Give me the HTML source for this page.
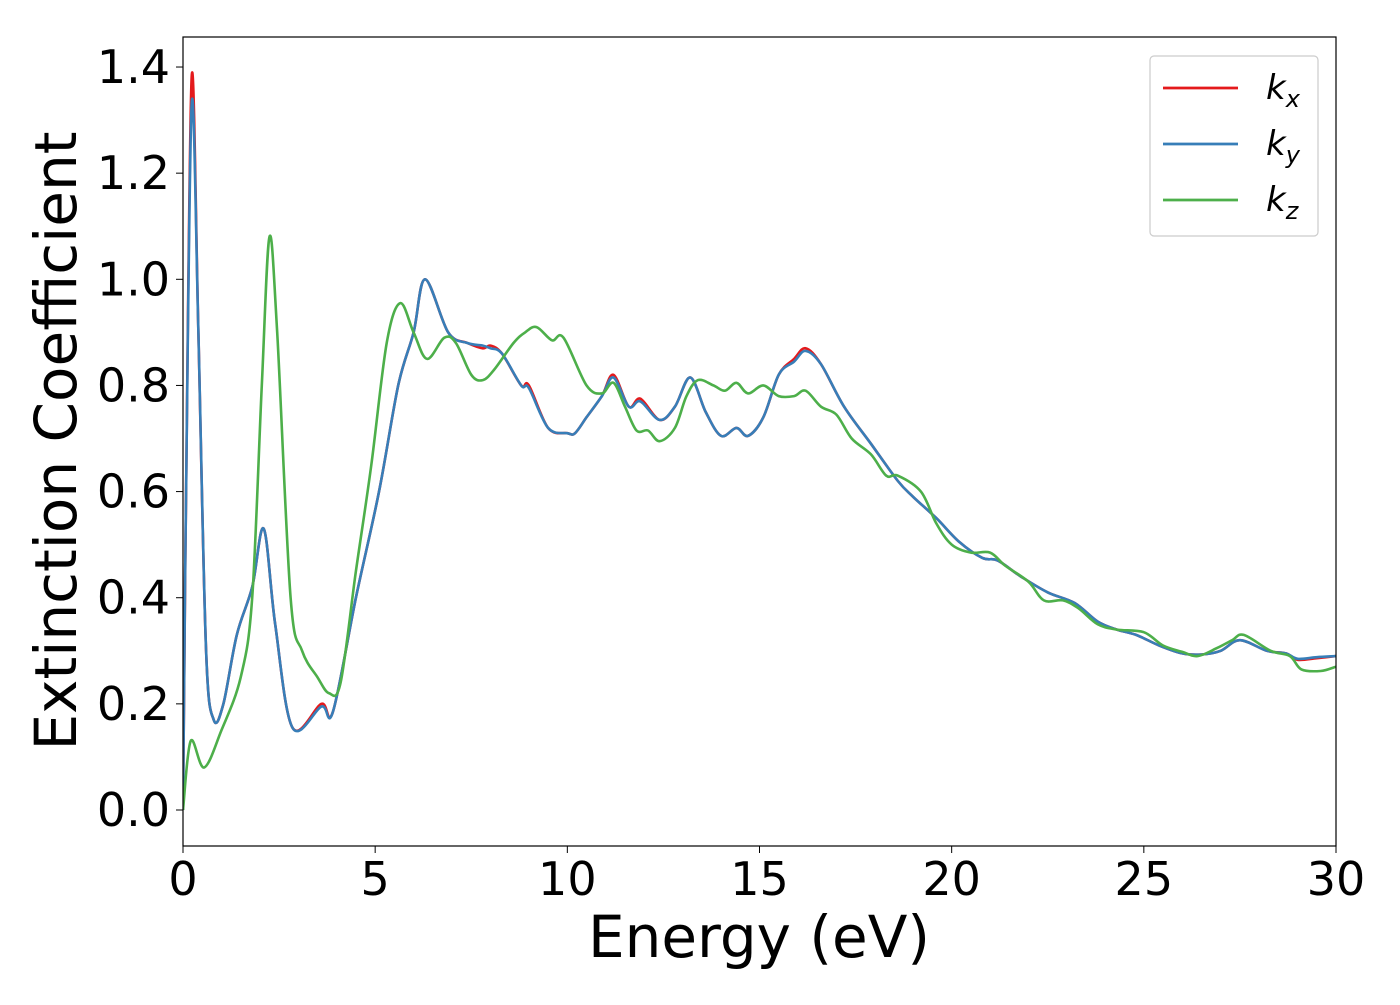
<!DOCTYPE html>
<html><head><meta charset="utf-8"><style>
body{margin:0;background:#fff;}
svg text{font-family:"DejaVu Sans","Liberation Sans",sans-serif;}
</style></head><body>
<svg id="chart" width="1400" height="1000" xmlns="http://www.w3.org/2000/svg">
<rect width="1400" height="1000" fill="#fff"/>
<g id="marks"></g>
<rect x="183" y="37" width="1153" height="809" fill="none" stroke="#000" stroke-width="1.2"/>
<g id="xticks"></g><g id="yticks"></g>
<text x="759" y="957" font-size="58" text-anchor="middle">Energy (eV)</text>
<text transform="translate(76,441) rotate(-90)" font-size="58" text-anchor="middle">Extinction Coefficient</text>
<g>
<rect x="1150" y="56" width="168" height="180" rx="4" fill="#fff" stroke="#ccc" stroke-width="1.2"/>
<line x1="1163" y1="88" x2="1238" y2="88" stroke="#e41a1c" stroke-width="2.8"/>
<line x1="1163" y1="144" x2="1238" y2="144" stroke="#377eb8" stroke-width="2.8"/>
<line x1="1163" y1="200" x2="1238" y2="200" stroke="#4daf4a" stroke-width="2.8"/>
<text x="1266" y="99" font-size="34" font-style="italic">k<tspan font-size="24" dy="8">x</tspan></text>
<text x="1266" y="155" font-size="34" font-style="italic">k<tspan font-size="24" dy="8">y</tspan></text>
<text x="1266" y="211" font-size="34" font-style="italic">k<tspan font-size="24" dy="8">z</tspan></text>
</g>
</svg>
<script>
const xTicks=[0,5,10,15,20,25,30];
const yTicks=[0.0,0.2,0.4,0.6,0.8,1.0,1.2,1.4];
const kxE=[0,0.08,0.23,0.4,0.6,0.8,1.05,1.4,1.8,2.1,2.4,2.85,3.6,3.9,4.5,5.1,5.6,6.0,6.3,6.9,7.4,7.8,8.0,8.3,8.8,9.0,9.5,10.0,10.2,10.5,10.9,11.2,11.6,11.9,12.4,12.8,13.2,13.6,14.0,14.4,14.7,15.1,15.5,15.9,16.2,16.6,17.2,17.9,18.6,19.0,19.6,20.2,20.8,21.2,21.8,22.5,23.2,23.8,24.3,24.8,25.4,26.0,26.5,27.0,27.5,28.2,28.7,29.0,29.5,30];
const kxV=[0,0.6,1.385,0.9,0.3,0.17,0.2,0.33,0.42,0.53,0.35,0.155,0.2,0.185,0.4,0.6,0.8,0.9,1.0,0.9,0.88,0.87,0.875,0.86,0.8,0.8,0.72,0.71,0.71,0.74,0.78,0.82,0.76,0.775,0.735,0.76,0.815,0.75,0.705,0.72,0.705,0.74,0.82,0.85,0.87,0.84,0.76,0.69,0.62,0.59,0.55,0.505,0.475,0.47,0.44,0.41,0.39,0.355,0.34,0.33,0.31,0.295,0.293,0.3,0.32,0.3,0.295,0.283,0.286,0.29];
const kyV=[0,0.6,1.335,0.9,0.3,0.17,0.2,0.33,0.42,0.53,0.35,0.155,0.195,0.185,0.4,0.6,0.8,0.9,1.0,0.9,0.88,0.875,0.87,0.86,0.8,0.795,0.72,0.71,0.71,0.74,0.78,0.815,0.76,0.77,0.735,0.76,0.815,0.75,0.705,0.72,0.705,0.74,0.82,0.845,0.865,0.84,0.76,0.69,0.62,0.59,0.55,0.505,0.475,0.47,0.44,0.41,0.39,0.355,0.34,0.33,0.31,0.295,0.293,0.3,0.32,0.3,0.295,0.285,0.288,0.29];
const kzE=[0,0.2,0.55,1.0,1.5,1.8,2.05,2.25,2.45,2.8,3.1,3.5,3.8,4.1,4.5,4.9,5.3,5.65,6.0,6.35,6.8,7.1,7.5,7.8,8.1,8.6,8.9,9.2,9.6,9.9,10.5,10.9,11.2,11.5,11.8,12.1,12.4,12.8,13.1,13.4,13.8,14.1,14.4,14.7,15.1,15.5,15.9,16.2,16.6,17.0,17.4,17.9,18.3,18.6,19.2,19.6,20.0,20.5,21.0,21.4,22.0,22.4,22.9,23.3,23.8,24.3,25.0,25.5,26.0,26.4,26.9,27.3,27.6,28.3,28.8,29.1,29.6,30];
const kzV=[0,0.13,0.08,0.15,0.25,0.4,0.8,1.08,0.9,0.4,0.3,0.25,0.22,0.24,0.45,0.65,0.88,0.955,0.9,0.85,0.89,0.88,0.82,0.81,0.83,0.88,0.9,0.91,0.885,0.89,0.8,0.785,0.805,0.76,0.715,0.715,0.695,0.72,0.78,0.81,0.8,0.79,0.805,0.785,0.8,0.78,0.78,0.79,0.76,0.745,0.7,0.67,0.63,0.63,0.6,0.54,0.5,0.485,0.485,0.46,0.43,0.395,0.395,0.38,0.35,0.34,0.335,0.31,0.298,0.29,0.305,0.32,0.33,0.3,0.29,0.265,0.262,0.27];
const X=v=>183+(v-0)*(1336-183)/30;
const Y=v=>810-v*530.7;
const NS="http://www.w3.org/2000/svg";
function path(xs,ys){
  const p=xs.map((x,i)=>[X(x),Y(ys[i])]);
  let d="M"+p[0][0].toFixed(1)+","+p[0][1].toFixed(1);
  for(let i=0;i<p.length-1;i++){
    const p0=p[Math.max(i-1,0)],p1=p[i],p2=p[i+1],p3=p[Math.min(i+2,p.length-1)];
    const c1=[p1[0]+(p2[0]-p0[0])/6,p1[1]+(p2[1]-p0[1])/6];
    const c2=[p2[0]-(p3[0]-p1[0])/6,p2[1]-(p3[1]-p1[1])/6];
    d+=`C${c1[0].toFixed(1)},${c1[1].toFixed(1)} ${c2[0].toFixed(1)},${c2[1].toFixed(1)} ${p2[0].toFixed(1)},${p2[1].toFixed(1)}`;
  }
  return d;
}
const marks=document.getElementById("marks");
const clip=document.createElementNS(NS,"clipPath");clip.id="pc";
const cr=document.createElementNS(NS,"rect");cr.setAttribute("x",183);cr.setAttribute("y",37);cr.setAttribute("width",1153);cr.setAttribute("height",809);
clip.appendChild(cr);marks.appendChild(clip);
marks.setAttribute("clip-path","url(#pc)");
[[kxE,kxV,"#e41a1c","series-kx"],[kxE,kyV,"#377eb8","series-ky"],[kzE,kzV,"#4daf4a","series-kz"]].forEach(s=>{
  const el=document.createElementNS(NS,"path");
  el.setAttribute("d",path(s[0],s[1]));
  el.setAttribute("fill","none");el.setAttribute("stroke",s[2]);el.setAttribute("stroke-width","2.6");
  
  
  marks.appendChild(el);
});
const xg=document.getElementById("xticks");
xTicks.forEach(t=>{
  const l=document.createElementNS(NS,"line");
  l.setAttribute("x1",X(t));l.setAttribute("x2",X(t));l.setAttribute("y1",846);l.setAttribute("y2",853);l.setAttribute("stroke","#000");
  
  
  xg.appendChild(l);
  const tx=document.createElementNS(NS,"text");
  tx.setAttribute("x",X(t));tx.setAttribute("y",895);tx.setAttribute("font-size","46");tx.setAttribute("text-anchor","middle");
  tx.textContent=t;
  
  
  xg.appendChild(tx);
});
const yg=document.getElementById("yticks");
yTicks.forEach(t=>{
  const l=document.createElementNS(NS,"line");
  l.setAttribute("x1",176);l.setAttribute("x2",183);l.setAttribute("y1",Y(t));l.setAttribute("y2",Y(t));l.setAttribute("stroke","#000");
  
  
  yg.appendChild(l);
  const tx=document.createElementNS(NS,"text");
  tx.setAttribute("x",170);tx.setAttribute("y",Y(t)+16);tx.setAttribute("font-size","46");tx.setAttribute("text-anchor","end");
  tx.textContent=t.toFixed(1);
  
  
  yg.appendChild(tx);
});
</script>
</body></html>
